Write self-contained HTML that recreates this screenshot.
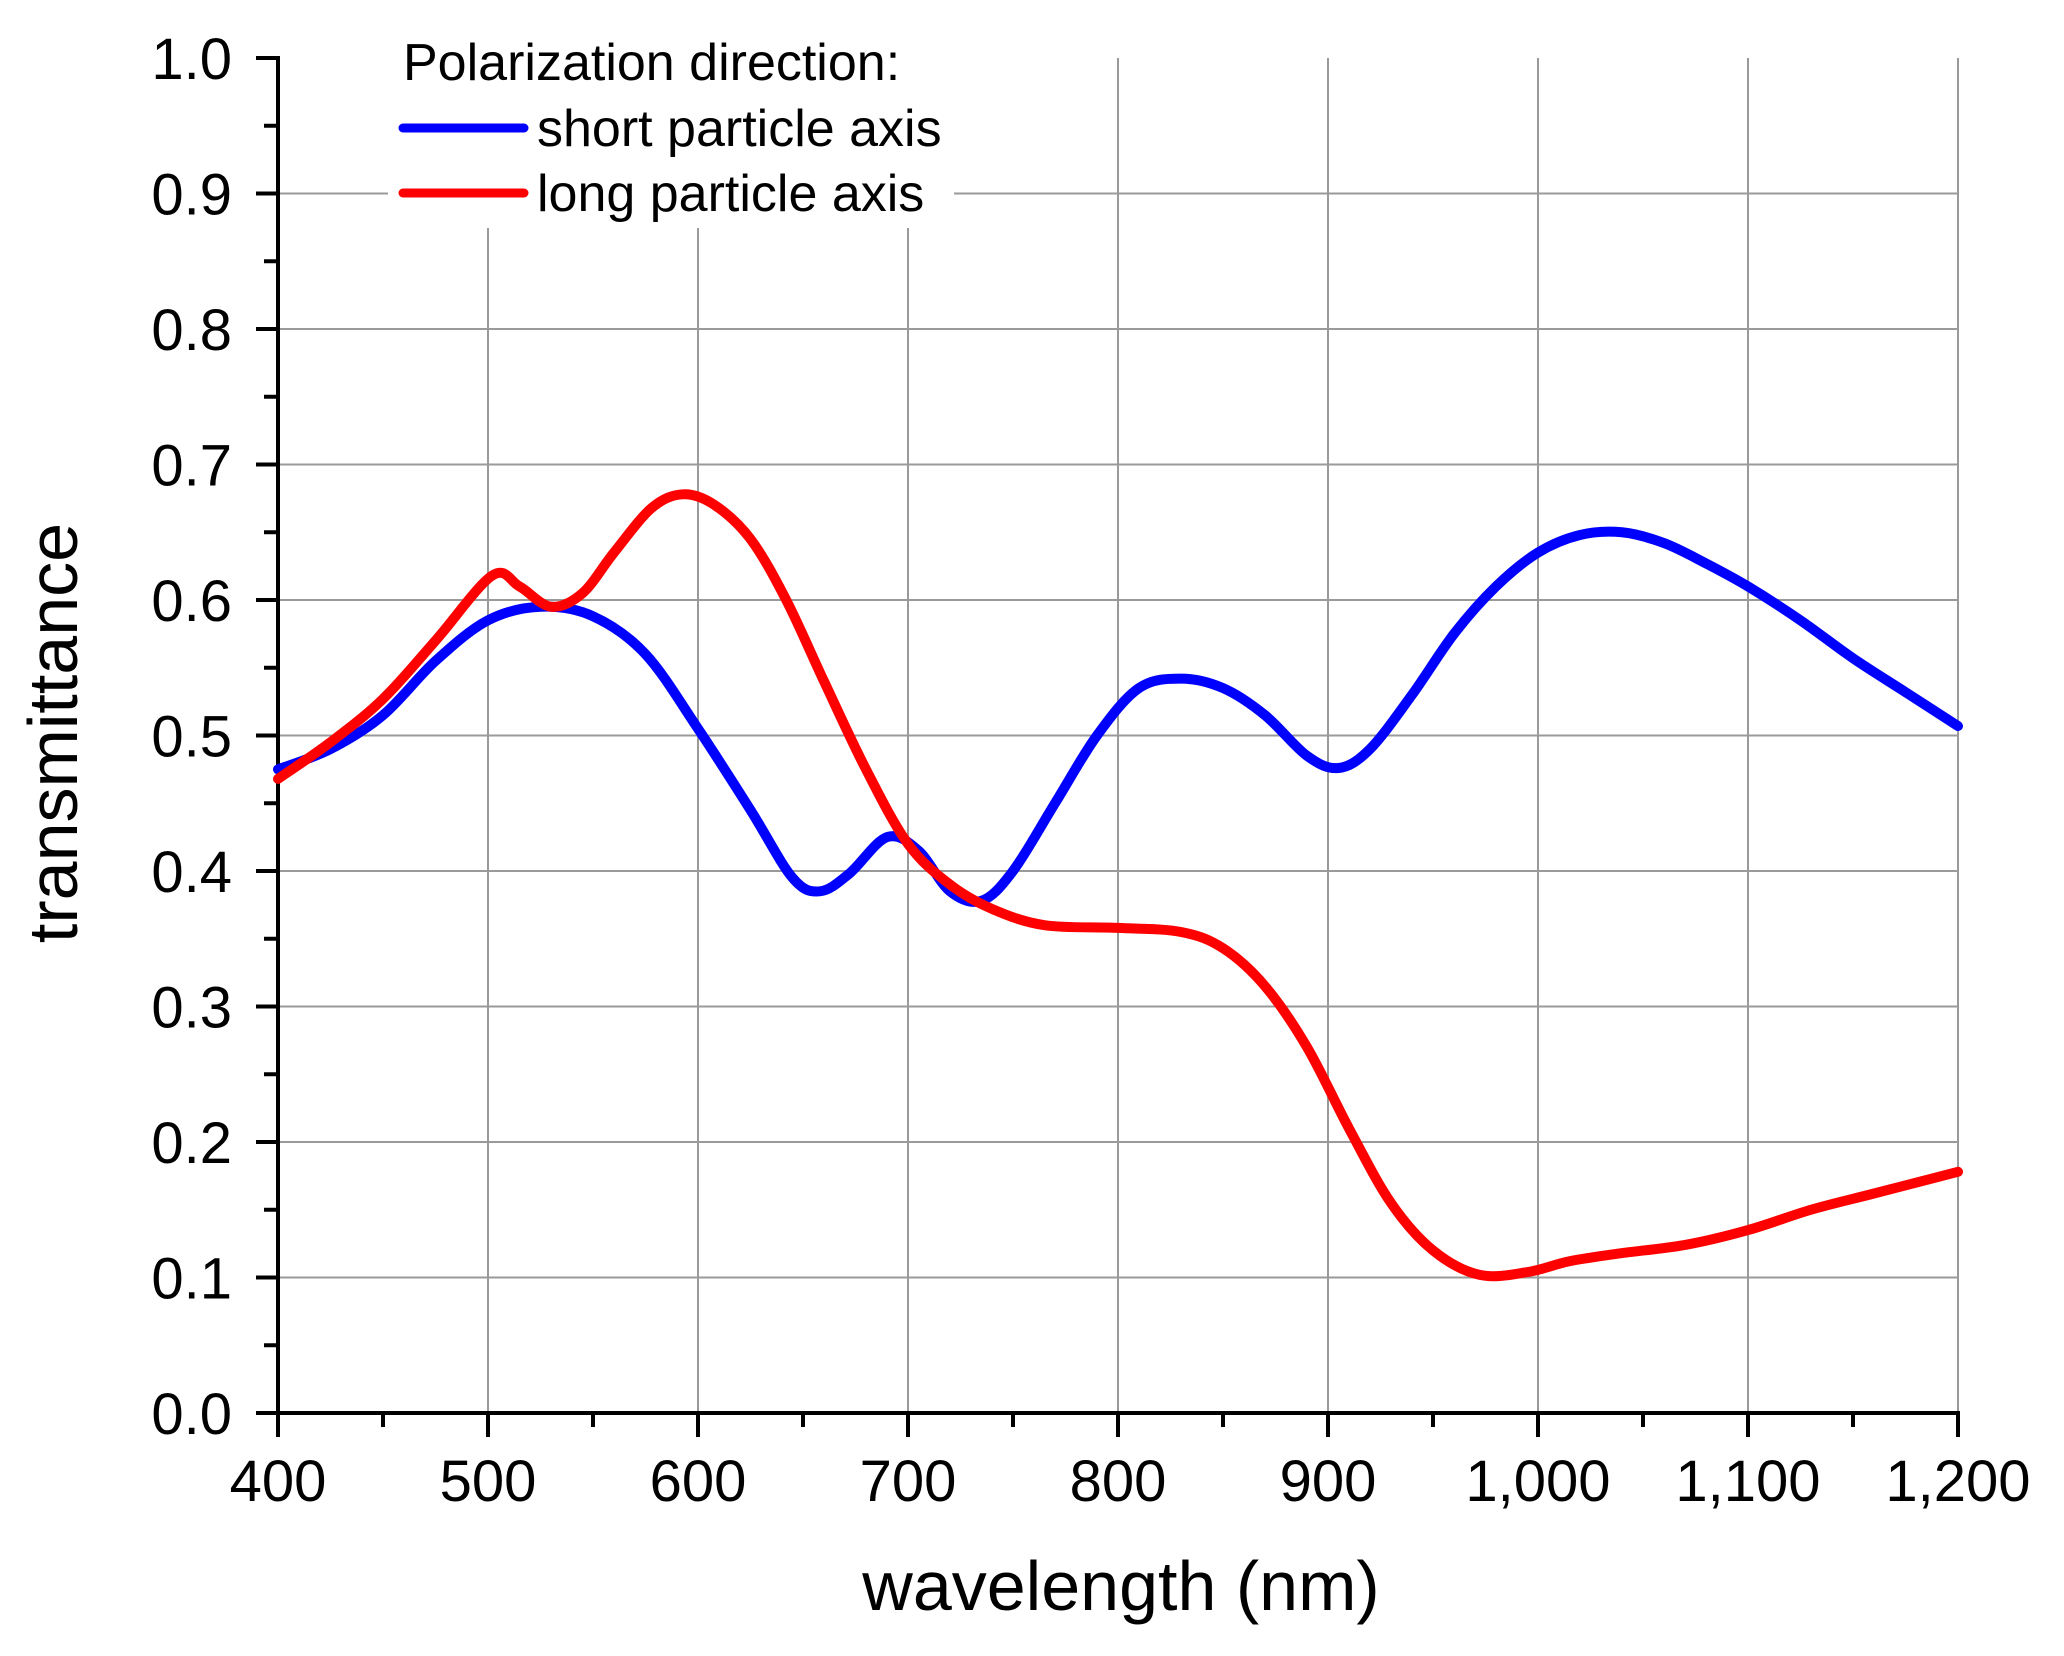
<!DOCTYPE html>
<html><head><meta charset="utf-8"><style>
html,body{margin:0;padding:0;background:#fff;}
svg{display:block;}
text{font-family:"Liberation Sans",Arial,sans-serif;fill:#000;}
</style></head><body>
<svg id="s" width="2064" height="1656" viewBox="0 0 2064 1656" xmlns="http://www.w3.org/2000/svg">
<g id="grid" stroke="#9a9a9a" stroke-width="2"></g>
<rect x="388" y="30" width="566" height="198" fill="#fff"/>
<g id="axes" stroke="#000"></g>
<g id="ylab" font-size="58" text-anchor="end"></g>
<g id="xlab" font-size="58" text-anchor="middle"></g>
<text x="1121" y="1610" font-size="70" text-anchor="middle">wavelength (nm)</text>
<text transform="translate(77,733) rotate(-90)" font-size="70" text-anchor="middle">transmittance</text>
<path id="blue" fill="none" stroke="#0000ff" stroke-width="10" stroke-linejoin="round" stroke-linecap="round"/>
<path id="red" fill="none" stroke="#ff0000" stroke-width="10" stroke-linejoin="round" stroke-linecap="round"/>
<text x="403" y="80" font-size="52">Polarization direction:</text>
<line x1="403" y1="128" x2="524" y2="128" stroke="#0000ff" stroke-width="9" stroke-linecap="round"/>
<text x="537" y="146" font-size="52">short particle axis</text>
<line x1="403" y1="193" x2="524" y2="193" stroke="#ff0000" stroke-width="9" stroke-linecap="round"/>
<text x="537" y="211" font-size="52">long particle axis</text>
</svg>
<script>
const NS="http://www.w3.org/2000/svg";
const X=v=>278+(v-400)*2.1, Y=v=>1413-v*1355;
function el(p,t,a){const e=document.createElementNS(NS,t);for(const k in a)e.setAttribute(k,a[k]);document.getElementById(p).appendChild(e);return e;}
for(let i=1;i<=9;i++){const y=Y(i/10);
 if(i==9){el('grid','line',{x1:278,y1:y,x2:388,y2:y});el('grid','line',{x1:954,y1:y,x2:1958,y2:y});}
 else el('grid','line',{x1:278,y1:y,x2:1958,y2:y});}
for(let v=500;v<=1200;v+=100){const x=X(v);el('grid','line',{x1:x,y1:(x<954?228:58),x2:x,y2:1413});}
el('axes','line',{x1:278,y1:56,x2:278,y2:1415,'stroke-width':4});
el('axes','line',{x1:276,y1:1413,x2:1960,y2:1413,'stroke-width':4});
for(let i=0;i<=20;i++){const y=Y(i/20);const L=i%2?14:22;el('axes','line',{x1:278-L,y1:y,x2:278,y2:y,'stroke-width':4});}
for(let i=0;i<=16;i++){const x=X(400+i*50);const L=i%2?14:24;el('axes','line',{x1:x,y1:1413,x2:x,y2:1413+L,'stroke-width':4});}
for(let i=0;i<=10;i++){const t=el('ylab','text',{x:232,y:Y(i/10)+21});t.textContent=(i/10).toFixed(1);}
const xl=['400','500','600','700','800','900','1,000','1,100','1,200'];
xl.forEach((s,i)=>{const t=el('xlab','text',{x:X(400+i*100),y:1501});t.textContent=s;});
function path(d){const p=d.map(a=>[X(a[0]),Y(a[1])]);let s='M'+p[0][0]+','+p[0][1];
 for(let i=0;i<p.length-1;i++){const p0=p[i-1]||p[i],p1=p[i],p2=p[i+1],p3=p[i+2]||p2;
  s+=' C'+(p1[0]+(p2[0]-p0[0])/6)+','+(p1[1]+(p2[1]-p0[1])/6)+' '+(p2[0]-(p3[0]-p1[0])/6)+','+(p2[1]-(p3[1]-p1[1])/6)+' '+p2[0]+','+p2[1];}
 return s;}
const B=[[400,.475],[425,.49],[450,.515],[475,.555],[500,.585],[525,.595],[550,.588],[575,.56],[600,.505],[625,.445],[645,.395],[658,.385],[672,.398],[690,.425],[705,.415],[720,.385],[735,.378],[750,.40],[770,.45],[790,.50],[810,.535],[830,.542],[850,.535],[870,.515],[890,.485],[905,.476],[920,.49],[940,.53],[960,.575],[980,.61],[1000,.635],[1020,.648],[1040,.65],[1060,.642],[1080,.627],[1100,.61],[1125,.585],[1150,.557],[1175,.532],[1200,.507]];
const R=[[400,.468],[425,.495],[450,.527],[475,.57],[502,.618],[515,.61],[530,.595],[545,.605],[560,.635],[578,.668],[593,.678],[608,.67],[625,.645],[642,.6],[660,.54],[680,.475],[700,.42],[720,.39],[740,.372],[765,.36],[800,.358],[830,.355],[850,.343],[870,.315],[890,.27],[910,.21],[930,.155],[950,.12],[972,.102],[995,.104],[1015,.112],[1040,.118],[1070,.124],[1100,.135],[1130,.15],[1160,.162],[1200,.178]];
document.getElementById('blue').setAttribute('d',path(B));
document.getElementById('red').setAttribute('d',path(R));
</script>
</body></html>
